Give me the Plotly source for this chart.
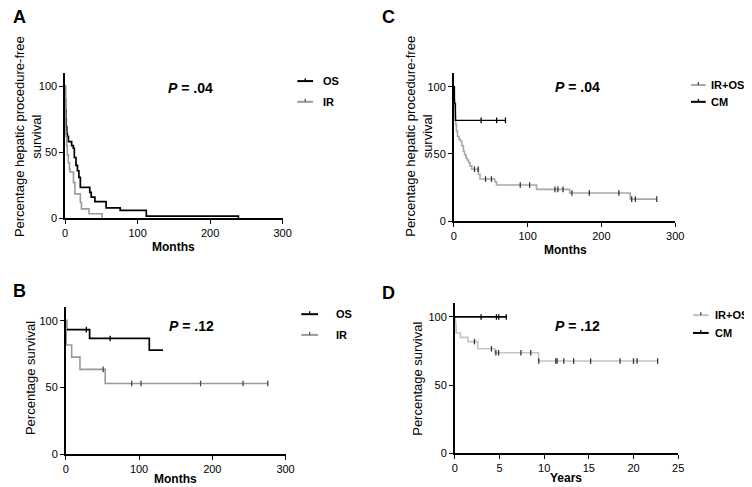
import numpy as np
import plotly.graph_objects as go

W, H = 752, 487

# ---------------- DATA ----------------
# Panel A: hepatic procedure-free survival (months)
a_os_t = [0, 0.3, 0.6, 1, 1.5, 2.3, 3, 4.5, 9, 11.3, 12.7, 15, 17, 19, 21, 34, 36, 41, 56.5, 76, 112, 239]
a_os_s = [100, 90, 82, 75, 69, 64, 62, 58, 55, 53, 46, 40, 36, 31, 23.4, 19.7, 16, 12.7, 8, 6, 1.7, 0]
a_ir_t = [0, 0.3, 0.7, 1, 2, 3, 4.5, 6, 7, 11.5, 13.5, 21, 22.5, 33, 51]
a_ir_s = [100, 80, 66, 62, 55, 48, 42, 37, 35, 27, 18.5, 12, 7.2, 3.5, 0]

# Panel B: overall survival (months)
b_os_t = [0, 0.9, 32.5, 114, 132.7]
b_os_s = [100, 93.3, 86.7, 78, 78]
b_os_cens = [28, 60.5]
b_ir_t = [0, 0.5, 8, 19.3, 53.8, 275.8]
b_ir_s = [100, 81.8, 72.7, 63.6, 53, 53]
b_ir_cens = [51, 90, 102.7, 184, 242, 275.8]

# Panel C: hepatic procedure-free survival (months)
c_cm_t = [0, 0.8, 2.2, 70]
c_cm_s = [100, 87.5, 75, 75]
c_cm_cens = [37, 58, 70]
c_iros_t = [0, 0.3, 0.7, 1.2, 1.8, 2.5, 3.5, 5, 7, 9, 11, 13, 14.5, 16.4, 18, 20, 22, 24.4,
            33.3, 35.5, 55.5, 57.8, 112, 157, 239, 275]
c_iros_s = [100, 95, 90, 84, 78, 72, 67, 63, 61, 59.5, 56, 52, 49.5, 47, 45.5, 43.6, 41, 38.7,
            35, 31.4, 29.4, 27, 23.7, 21, 16.5, 16.5]
c_iros_cens = [28, 33, 43, 51, 90, 102.7, 137, 141, 148, 160, 183.6, 223.6, 241, 246, 275]

# Panel D: overall survival (years)
d_cm_t = [0, 5.76]
d_cm_s = [100, 100]
d_cm_cens = [2.94, 4.66, 4.92, 5.76]
d_iros_t = [0, 0.05, 0.1, 0.15, 0.62, 1.47, 2.57, 4.48, 9.36, 22.7]
d_iros_s = [100, 97, 94, 88.2, 85, 81.9, 76.6, 73.7, 67.6, 67.6]
d_iros_cens = [2.2, 4.1, 4.6, 4.9, 7.4, 8.5, 9.4, 11.3, 11.45, 12.2, 13.3, 15.2, 18.5, 20.0, 20.4, 22.7]

x_ticks_months = [0, 100, 200, 300]
x_ticks_years = [0, 5, 10, 15, 20, 25]
y_ticks = [0, 50, 100]

FONT = "Arial, Liberation Sans, sans-serif"


def step_at(t, s, q):
    t = np.asarray(t, float)
    s = np.asarray(s, float)
    idx = np.searchsorted(t, np.asarray(q, float), side="right") - 1
    return s[np.clip(idx, 0, len(s) - 1)]


def px(x):
    return x / W


def py(y):
    return 1 - y / H


fig = go.Figure()


def add_curve(t, s, color, xa, ya, width=1.6, cens=None, cens_color=None):
    fig.add_trace(go.Scatter(x=t, y=s, mode="lines", line=dict(color=color, width=width, shape="hv"),
                             xaxis=xa, yaxis=ya, showlegend=False, hoverinfo="skip", cliponaxis=False))
    if cens:
        fig.add_trace(go.Scatter(x=cens, y=step_at(t, s, cens), mode="markers",
                                 marker=dict(symbol="line-ns", size=4,
                                             line=dict(color=cens_color or color, width=1.3)),
                                 xaxis=xa, yaxis=ya, showlegend=False, hoverinfo="skip", cliponaxis=False))


GRAY_A = "#9a9a9a"
GRAY_B = "#999999"
GRAY_C = "#a8a8a8"
GRAY_D = "#c4c4c4"

# Panel A
add_curve(a_os_t, a_os_s, "#000000", "x", "y", width=1.7)
add_curve(a_ir_t, a_ir_s, GRAY_A, "x", "y", width=1.6)
# Panel B
add_curve(b_os_t, b_os_s, "#000000", "x2", "y2", width=1.7, cens=b_os_cens)
add_curve(b_ir_t, b_ir_s, GRAY_B, "x2", "y2", width=1.6, cens=b_ir_cens, cens_color="#444444")
# Panel C
add_curve(c_iros_t, c_iros_s, GRAY_C, "x3", "y3", width=1.6, cens=c_iros_cens, cens_color="#333333")
add_curve(c_cm_t, c_cm_s, "#000000", "x3", "y3", width=1.4, cens=c_cm_cens)
# Panel D
add_curve(d_iros_t, d_iros_s, GRAY_D, "x4", "y4", width=1.6, cens=d_iros_cens, cens_color="#333333")
add_curve(d_cm_t, d_cm_s, "#000000", "x4", "y4", width=1.7, cens=d_cm_cens)

axis_common = dict(showline=True, linecolor="#000000", linewidth=1.5, ticks="outside", ticklen=4,
                   tickwidth=1.3, tickcolor="#000000", showgrid=False, zeroline=False,
                   tickfont=dict(family=FONT, size=11, color="#000000"), fixedrange=True)

panels = {
    "": dict(x0=55, x1=276, y0=213, ytop=65.6, xr=[0, 300], xt=x_ticks_months),
    "2": dict(x0=55.7, x1=279, y0=452, ytop=303, xr=[0, 300], xt=x_ticks_months),
    "3": dict(x0=450, x1=675, y0=216, ytop=66, xr=[0, 300], xt=x_ticks_months),
    "4": dict(x0=451, x1=678, y0=450.7, ytop=299, xr=[0, 25], xt=x_ticks_years),
}
layout_axes = {}
for k, p in panels.items():
    layout_axes["xaxis" + k] = dict(axis_common, domain=[px(p["x0"]), px(p["x1"])], range=p["xr"],
                                     tickvals=p["xt"], anchor="y" + k)
    layout_axes["yaxis" + k] = dict(axis_common, domain=[py(p["y0"]), py(p["ytop"])], range=[0, 110],
                                     tickvals=y_ticks, anchor="x" + k)

annotations = []


def ann(x, y, text, size=12, angle=0, xanchor="center", color="#000000"):
    annotations.append(dict(x=px(x), y=py(y), xref="paper", yref="paper", text=text, showarrow=False,
                            xanchor=xanchor, yanchor="middle", textangle=angle, borderpad=0,
                            font=dict(family=FONT, size=size, color=color)))


# panel letters
ann(9, 9, "<b>A</b>", size=18)
ann(9, 287, "<b>B</b>", size=18)
ann(384, 9, "<b>C</b>", size=18)
ann(384, 289, "<b>D</b>", size=18)

# axis titles
ann(165, 242, "<b>Months</b>", size=12)
ann(167, 477, "<b>Months</b>", size=12)
ann(563, 245, "<b>Months</b>", size=12)
ann(564, 476, "<b>Years</b>", size=12)
ann(18, 130, "Percentage hepatic procedure-free<br>survival", size=13, angle=-90)
ann(415, 130, "Percentage hepatic procedure-free<br>survival", size=13, angle=-90)
ann(20, 375, "Percentage survival", size=13, angle=-90)
ann(413, 375, "Percentage survival", size=13, angle=-90)

# P values
ann(182, 81, "<b><i>P</i> = .04</b>", size=14)
ann(576, 80, "<b><i>P</i> = .04</b>", size=14)
ann(183, 322, "<b><i>P</i> = .12</b>", size=14)
ann(576, 322, "<b><i>P</i> = .12</b>", size=14)

shapes = []


def legend_item(x1, x2, y, color, label, tx, tick_color=None):
    shapes.append(dict(type="line", xref="paper", yref="paper", x0=px(x1), x1=px(x2), y0=py(y), y1=py(y),
                       line=dict(color=color, width=2)))
    xm = (x1 + x2) / 2
    shapes.append(dict(type="line", xref="paper", yref="paper", x0=px(xm), x1=px(xm), y0=py(y - 3), y1=py(y),
                       line=dict(color=tick_color or color, width=1.3)))
    ann(tx, y, "<b>" + label + "</b>", size=11, xanchor="left")


legend_item(291, 307, 74, "#000000", "OS", 316)
legend_item(291, 307, 95, GRAY_A, "IR", 316, "#555555")
legend_item(295, 312, 310, "#000000", "OS", 329)
legend_item(295, 312, 331, GRAY_B, "IR", 329, "#555555")
legend_item(691, 706, 78, GRAY_C, "IR+OS", 710, "#444444")
legend_item(691, 706, 95, "#000000", "CM", 710)
legend_item(693, 709, 311, GRAY_D, "IR+OS", 714, "#444444")
legend_item(693, 709, 329, "#000000", "CM", 714)

fig.update_layout(width=W, height=H, margin=dict(l=0, r=0, t=0, b=0), paper_bgcolor="#ffffff",
                  plot_bgcolor="#ffffff", showlegend=False, annotations=annotations, shapes=shapes,
                  **layout_axes)

fig.write_html("out.html")
